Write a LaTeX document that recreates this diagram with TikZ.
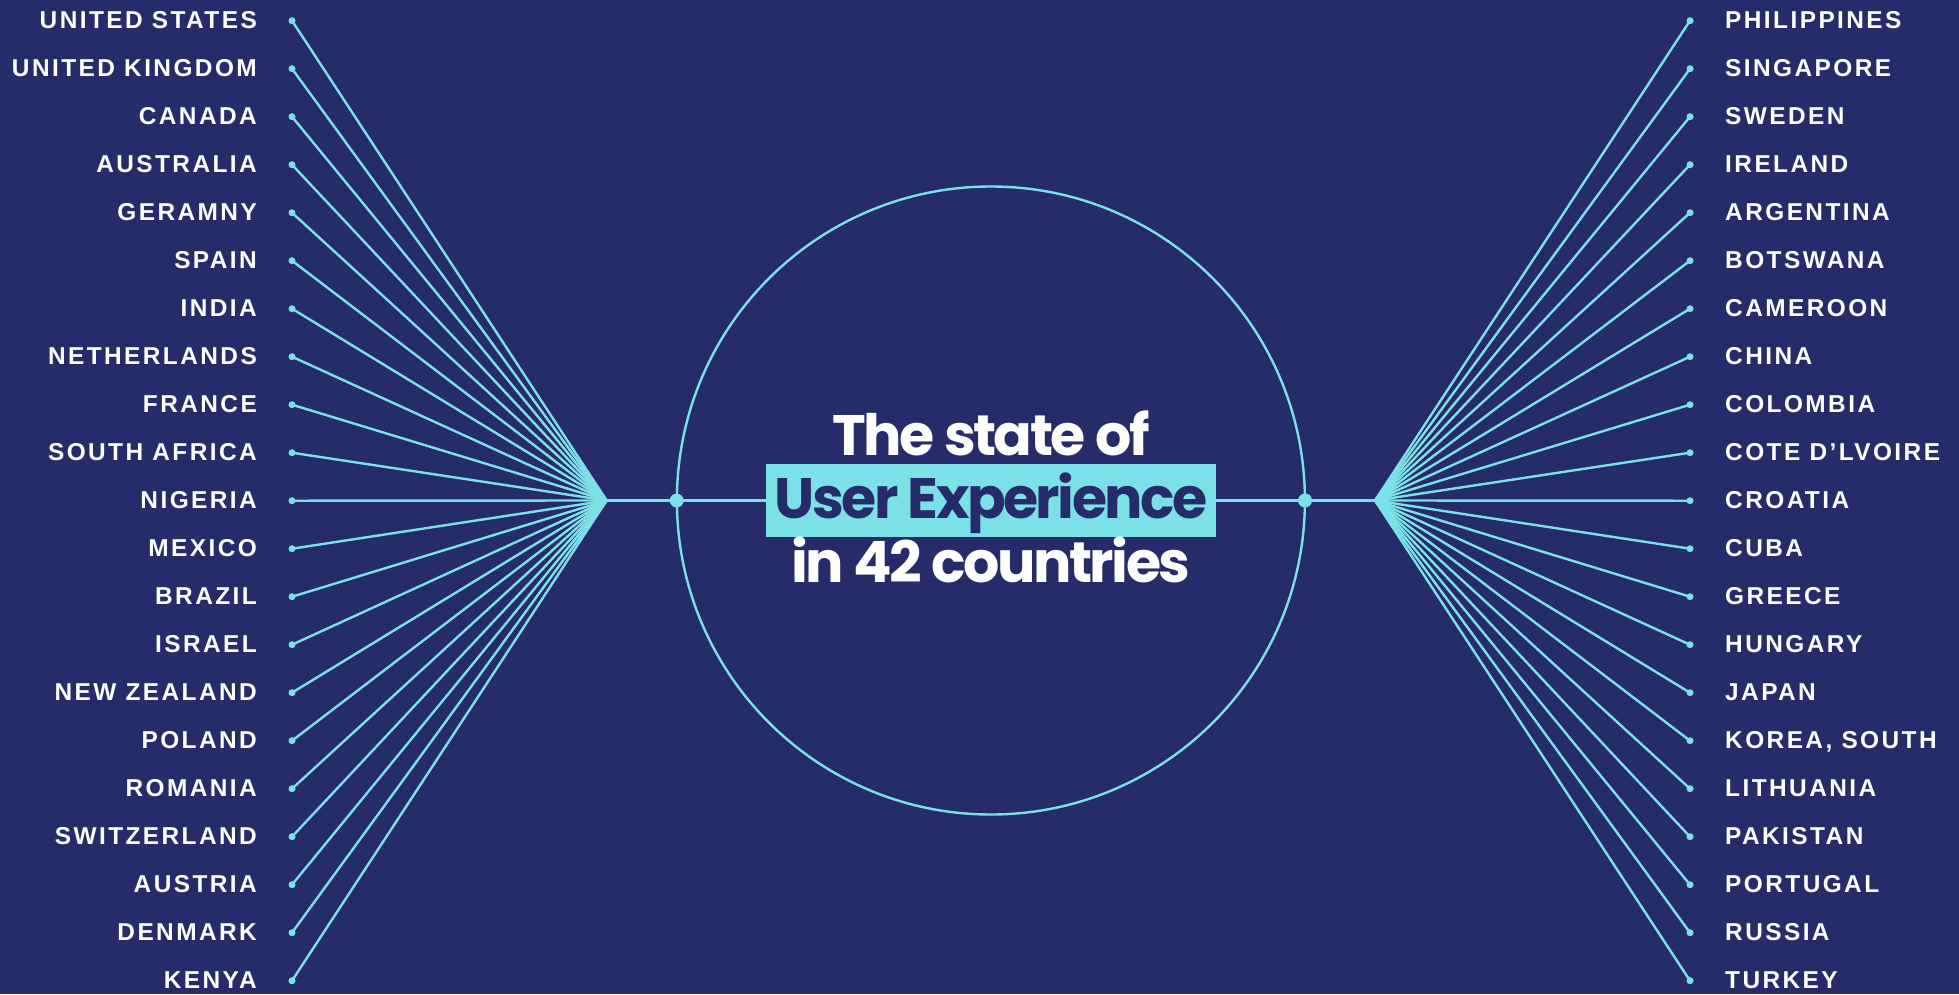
\documentclass[tikz,border=0pt]{standalone}
\usepackage{fontspec}
\setmainfont{Liberation Sans}
\newfontfamily\labelfont{Liberation Sans}[LetterSpace=10]
\newfontfamily\titlefont{Poppins}[LetterSpace=-4.5]
\definecolor{navy}{HTML}{262C6A}
\definecolor{aqua}{HTML}{7BE1E6}
\tikzset{
  link/.style={draw=aqua, line width=2.4pt},
  enddot/.style={circle, fill=aqua, inner sep=0pt, minimum size=7pt},
  hubdot/.style={circle, fill=aqua, inner sep=0pt, minimum size=14pt},
  country/.style={text=white, font=\labelfont\bfseries\fontsize{24.4}{24}\selectfont, inner sep=0pt},
  headline/.style={text=white, font=\titlefont\bfseries\fontsize{57}{57}\selectfont, inner sep=0pt},
}
\begin{document}
\begin{tikzpicture}[x=1pt, y=-1pt]
  \fill[navy] (0,0) rectangle (1959,994);
  \useasboundingbox (0,0) rectangle (1959,994);

  % fan apexes and the central ring
  \coordinate (lv) at (606.7,500.5);
  \coordinate (rv) at (1375,500.5);
  \node[circle, draw=aqua, line width=2.4pt, minimum size=628pt, inner sep=0pt] (ring) at (990.9,500.5) {};
  \draw[link] (lv) -- (rv);
  \node[hubdot] (lhub) at (676.7,500.5) {};
  \node[hubdot] (rhub) at (1305,500.5) {};

  % left fan
  \foreach \i/\nm in {0/{UNITED STATES},1/{UNITED KINGDOM},2/{CANADA},3/{AUSTRALIA},4/{GERAMNY},
      5/{SPAIN},6/{INDIA},7/{NETHERLANDS},8/{FRANCE},9/{SOUTH AFRICA},10/{NIGERIA},
      11/{MEXICO},12/{BRAZIL},13/{ISRAEL},14/{NEW ZEALAND},15/{POLAND},16/{ROMANIA},
      17/{SWITZERLAND},18/{AUSTRIA},19/{DENMARK},20/{KENYA}} {
    \pgfmathsetmacro{\yy}{20.7+48*\i}
    \node[enddot] (L\i) at (292,\yy) {};
    \draw[link] (L\i.center) -- (lv);
    \node[country, anchor=base east] (LT\i) at (257,\yy+8) {\nm};
  }

  % right fan
  \foreach \i/\nm in {0/{PHILIPPINES},1/{SINGAPORE},2/{SWEDEN},3/{IRELAND},4/{ARGENTINA},
      5/{BOTSWANA},6/{CAMEROON},7/{CHINA},8/{COLOMBIA},9/{COTE D’LVOIRE},10/{CROATIA},
      11/{CUBA},12/{GREECE},13/{HUNGARY},14/{JAPAN},15/{KOREA, SOUTH},16/{LITHUANIA},
      17/{PAKISTAN},18/{PORTUGAL},19/{RUSSIA},20/{TURKEY}} {
    \pgfmathsetmacro{\yy}{20.7+48*\i}
    \node[enddot] (R\i) at (1690,\yy) {};
    \draw[link] (R\i.center) -- (rv);
    \node[country, anchor=base west] (RT\i) at (1725,\yy+8) {\nm};
  }

  % headline
  \node[fill=aqua, minimum width=450pt, minimum height=72.7pt, inner sep=0pt] (band) at (991,500.4) {};
  \node[headline, anchor=base] (t1) at (991,455) {The state of};
  \node[headline, anchor=base, text=navy] (t2) at (991,518) {User Experience};
  \node[headline, anchor=base] (t3) at (991,582) {in 42 countries};
\end{tikzpicture}
\end{document}
